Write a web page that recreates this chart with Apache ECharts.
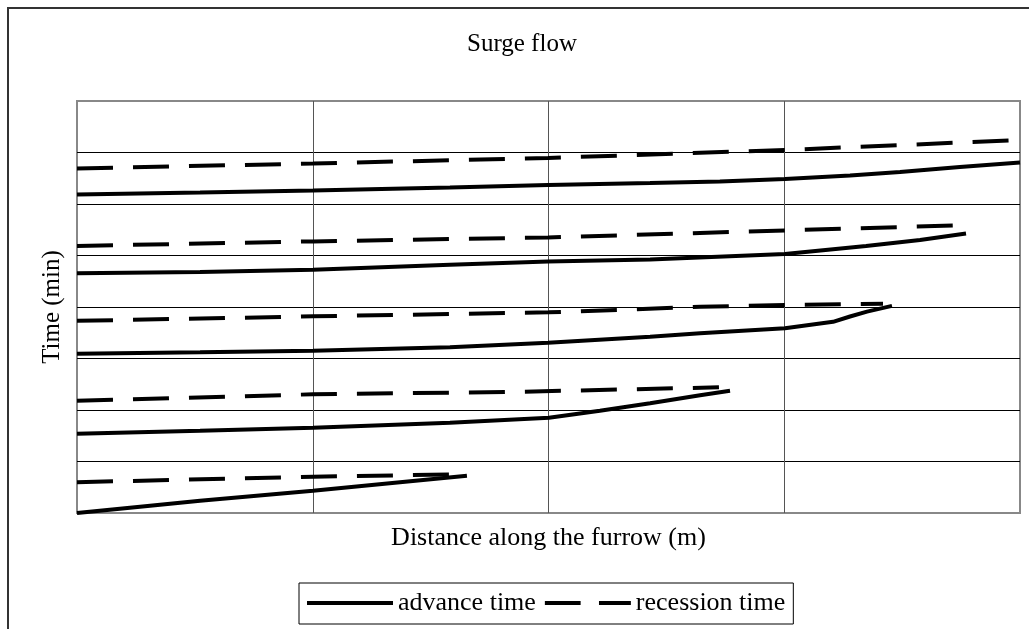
<!DOCTYPE html>
<html>
<head>
<meta charset="utf-8">
<script src="https://cdn.jsdelivr.net/npm/echarts@6/dist/echarts.min.js"></script>
<style>
html,body{margin:0;padding:0;background:#fff;}
#chart{width:1029px;height:629px;}
</style>
</head>
<body>
<div id="chart"></div>
<script>
// [distance, time] pairs (grid: 100 per x division, 10 per y division)
const advance1 = [[0,0],[31.0,1.42],[52.2,2.39],[100.1,4.33],[137.0,5.98],[165.4,7.24]];
const recession1 = [[0,5.98],[100.1,7.04],[165.9,7.53]];
const advance2 = [[0,15.39],[52.2,15.97],[100.1,16.55],[158.2,17.52],[200.2,18.49],[221.8,19.85],[243.1,21.30],[264.3,22.86],[277.0,23.73]];
const recession2 = [[0,21.79],[100.1,23.05],[187.9,23.54],[272.3,24.41]];
const advance3 = [[0,30.91],[52.2,31.20],[100.1,31.49],[158.2,32.17],[199.8,33.04],[243.1,34.21],[264.3,34.89],[300.3,35.86],[320.7,37.12],[327.9,38.15],[335.1,39.11],[345.7,40.22]];
const recession3 = [[0,37.31],[100.1,38.18],[200.2,38.96],[264.3,40.03],[300.3,40.41],[341.9,40.61]];
const advance4 = [[0,46.53],[52.2,46.82],[100.1,47.21],[158.2,48.18],[199.8,48.85],[243.1,49.24],[300.3,50.31],[334.7,51.86],[357.6,53.03],[377.1,54.29]];
const recession4 = [[0,51.86],[100.1,52.74],[199.8,53.51],[300.3,54.87],[372.4,55.84]];
const advance5 = [[0,61.85],[52.2,62.24],[100.1,62.63],[158.2,63.21],[199.8,63.70],[243.1,64.09],[272.7,64.38],[300.3,64.86],[327.9,65.54],[349.1,66.22],[374.5,67.19],[400,68.06]];
const recession5 = [[0,66.90],[100.1,67.87],[199.8,68.94],[300.3,70.49],[400,72.43]];

const advanceSets = [advance1, advance2, advance3, advance4, advance5];
const recessionSets = [recession1, recession2, recession3, recession4, recession5];
const seriesNames = ['advance time', 'recession time'];
const titleText = 'Surge flow';
const xName = 'Distance along the furrow (m)';
const yName = 'Time (min)';

const FONT = '"Liberation Serif", "Times New Roman", serif';

function mk(name, data, dashed) {
  return {
    type: 'line', name: name, data: data,
    symbol: 'none', showSymbol: false, silent: true,
    animation: false, clip: true,
    z: dashed ? 3 : 2,
    lineStyle: { color: '#000', width: 4, type: dashed ? [36, 20] : 'solid', cap: 'butt' },
    itemStyle: { color: '#000' },
    emphasis: { disabled: true }
  };
}

const series = [];
advanceSets.forEach(d => series.push(mk(seriesNames[0], d, false)));
recessionSets.forEach(d => series.push(mk(seriesNames[1], d, true)));

const chart = echarts.init(document.getElementById('chart'), null, { renderer: 'canvas' });
chart.setOption({
  backgroundColor: '#fff',
  animation: false,
  title: {
    text: titleText, left: 467, top: 32, padding: 0,
    textStyle: { fontFamily: FONT, fontSize: 25, fontWeight: 'normal', color: '#000' }
  },
  legend: {
    data: [
      { name: seriesNames[0], icon: 'path://M0 0 H86 V4 H0 Z' },
      { name: seriesNames[1], icon: 'path://M0 0 H37 V4 H0 Z M56 0 H89 V4 H56 Z' }
    ],
    left: 299, top: 583,
    orient: 'horizontal',
    padding: [7, 8, 8, 8],
    itemWidth: 86, itemHeight: 4, itemGap: 9,
    borderColor: '#000', borderWidth: 1,
    selectedMode: false,
    itemStyle: { color: '#000', borderWidth: 0 },
    textStyle: { fontFamily: FONT, fontSize: 26, color: '#000' }
  },
  grid: {
    left: 77, top: 101, right: 9, bottom: 116,
    show: true, borderColor: '#888', borderWidth: 2, backgroundColor: '#fff'
  },
  xAxis: {
    type: 'value', min: 0, max: 400, interval: 100,
    name: xName, nameLocation: 'middle', nameGap: 12,
    nameTextStyle: { fontFamily: FONT, fontSize: 26, color: '#000' },
    axisLine: { show: false }, axisTick: { show: false }, axisLabel: { show: false },
    splitLine: { show: true, showMinLine: false, showMaxLine: false, lineStyle: { color: '#555', width: 1 } }
  },
  yAxis: {
    type: 'value', min: 0, max: 80, interval: 10,
    name: yName, nameLocation: 'middle', nameGap: 12,
    nameTextStyle: { fontFamily: FONT, fontSize: 25, color: '#000' },
    axisLine: { show: false }, axisTick: { show: false }, axisLabel: { show: false },
    splitLine: { show: true, showMinLine: false, showMaxLine: false, lineStyle: { color: '#000', width: 1 } }
  },
  graphic: [{
    type: 'rect', silent: true, z: 100,
    shape: { x: 8, y: 8, width: 1100, height: 700 },
    style: { fill: null, stroke: '#333', lineWidth: 2 }
  }],
  series: series
});
</script>
</body>
</html>
